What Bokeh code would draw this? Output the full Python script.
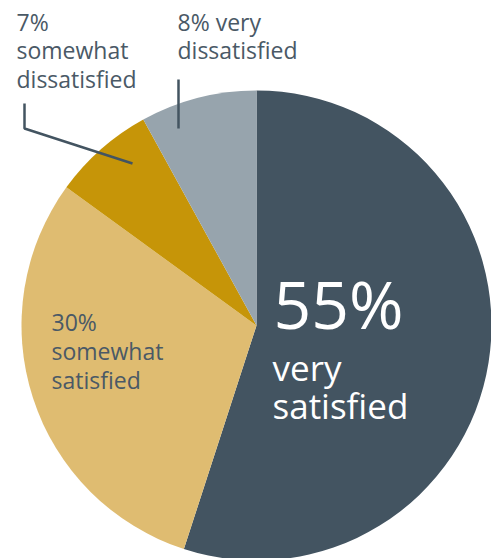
import math
from bokeh.plotting import figure
from bokeh.models import Range1d, ColumnDataSource
from bokeh.core.properties import value
from bokeh.embed import file_html
from bokeh.resources import INLINE

categories = ["very satisfied", "somewhat satisfied", "somewhat dissatisfied", "very dissatisfied"]
shares = [55, 30, 7, 8]
colors = ["#435461", "#dfbc71", "#c69508", "#97a4ad"]

W, H = 491, 558
p = figure(width=W, height=H, output_backend="svg", toolbar_location=None,
           x_range=Range1d(0, W), y_range=Range1d(0, H), min_border=0)
p.axis.visible = False
p.grid.visible = False
p.outline_line_color = None
p.background_fill_color = "white"
p.border_fill_color = "white"

def sy(y):
    return H - y

def sx(x):
    return x

cx, cy, r = sx(256), sy(325), 235
total = sum(shares)
starts, ends = [], []
cum = 0
for s in shares:
    starts.append(math.pi / 2 - 2 * math.pi * cum / total)
    cum += s
    ends.append(math.pi / 2 - 2 * math.pi * cum / total)

src = ColumnDataSource(dict(start=starts, end=ends, color=colors))
p.wedge(x=cx, y=cy, radius=r, start_angle="start", end_angle="end",
        direction="clock", fill_color="color", line_color=None, source=src)

text_col = "#4a5966"
font = value("Open Sans")

def label(lines, x, y0, step, size, color):
    shift = 0.375 * size
    for i, ln in enumerate(lines):
        p.text(x=[sx(x)], y=[sy(y0 + i * step - shift)], text=[ln], text_font=font,
               text_font_size=f"{size}px", text_color=color, text_baseline="alphabetic",
               text_align="left")

# big label
label([f"{shares[0]}%"], 273, 327, 0, 66, "white")
label(["very", "satisfied"], 272, 380, 38, 35, "white")
# 30%
label([f"{shares[1]}%", "somewhat", "satisfied"], 51, 330, 29, 23, text_col)
# 7%
label([f"{shares[2]}%", "somewhat", "dissatisfied"], 16, 30, 28.5, 23, text_col)
# 8%
label([f"{shares[3]}% very", "dissatisfied"], 177, 30, 28.5, 23, text_col)

# leader lines
p.line(x=[sx(178), sx(178)], y=[sy(79), sy(128)], line_color="#435461", line_width=2.5)
p.line(x=[sx(24), sx(24), sx(132)], y=[sy(103), sy(128), sy(163)],
       line_color="#435461", line_width=2.5)

open("out.html", "w").write(file_html(p, INLINE))
